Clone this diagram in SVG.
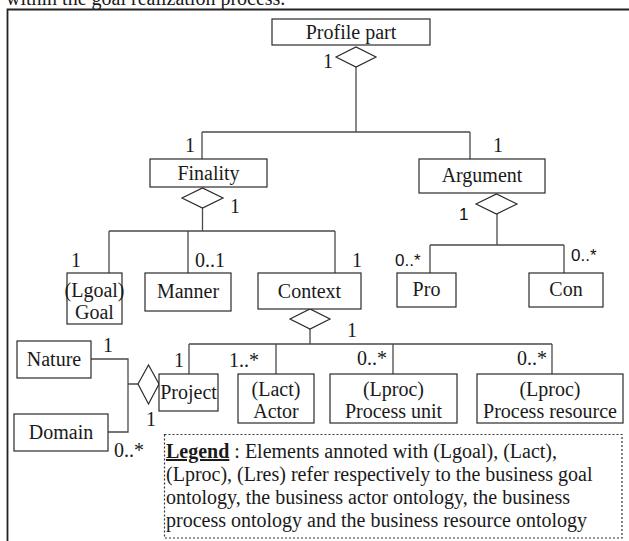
<svg xmlns="http://www.w3.org/2000/svg" width="629" height="541" viewBox="0 0 629 541">
  <style>
    .box { fill: #ffffff; stroke: #2a2a2a; stroke-width: 1.2; }
    .dia { fill: #ffffff; stroke: #2a2a2a; stroke-width: 1.2; }
    .wire { fill: none; stroke: #4a4a4a; stroke-width: 1.3; }
    .t { font-family: "Liberation Serif", "Times New Roman", serif; font-size: 20px; fill: #1a1a1a; }
    .c { text-anchor: middle; }
    .s { font-family: "Liberation Sans", Arial, sans-serif; font-size: 17px; fill: #111111; }
    .legend { fill: none; stroke: #333333; stroke-width: 1.2; stroke-dasharray: 2 2; }
  </style>

  <rect width="629" height="541" fill="#ffffff"/>

  <!-- running text above the frame -->
  <text class="t" x="6" y="5">within the goal realization process.</text>

  <!-- enclosing frame (open on the right and bottom) -->
  <path d="M7.5,541 V9.5 H629" fill="none" stroke="#222222" stroke-width="1.8"/>

  <!-- connectors -->
  <g id="connectors" class="wire">
    <path d="M356,67 V132 M202,132 H470 M202,132 V159 M470,132 V159"/>
    <path d="M202.5,208 V231 M109,231 H335 M109,231 V273 M188,231 V273 M335,231 V273"/>
    <path d="M497,214 V245 M430,245 H564 M430,245 V273 M564,245 V273"/>
    <path d="M310,329 V344 M189,344 H552 M189,344 V374 M276,344 V374 M393,344 V374 M552,344 V374"/>
    <path d="M91,359 H128 V432 H108 M128,384 H138"/>
  </g>

  <!-- aggregation diamonds -->
  <g id="diamonds">
    <polygon class="dia" points="336,57 356,47 376,57 356,67"/>
    <polygon class="dia" points="182,198 202.5,188 223,198 202.5,208"/>
    <polygon class="dia" points="476,204 496.5,194 517,204 496.5,214"/>
    <polygon class="dia" points="290,319 310,309 330,319 310,329"/>
    <polygon class="dia" points="138,384 148.5,365 159,384 148.5,404"/>
  </g>

  <!-- multiplicities -->
  <g id="multiplicities">
    <text class="t" x="323" y="68">1</text>
    <text class="t" x="185" y="152">1</text>
    <text class="t" x="493" y="152">1</text>
    <text class="t" x="230" y="213">1</text>
    <text class="s" x="459" y="220">1</text>
    <text class="t" x="71" y="267">1</text>
    <text class="t" x="195" y="267">0..1</text>
    <text class="t" x="352" y="267">1</text>
    <text class="s" x="395" y="266">0..*</text>
    <text class="s" x="571" y="261">0..*</text>
    <text class="t" x="347" y="337">1</text>
    <text class="t" x="103" y="352">1</text>
    <text class="t" x="174" y="367">1</text>
    <text class="t" x="229" y="367">1..*</text>
    <text class="t" x="357" y="365">0..*</text>
    <text class="t" x="517" y="365">0..*</text>
    <text class="t" x="146" y="426">1</text>
    <text class="t" x="114" y="457">0..*</text>
  </g>

  <!-- classes -->
  <g id="profile-part">
    <rect class="box" x="272" y="19" width="158" height="26"/>
    <text class="t c" x="351" y="39">Profile part</text>
  </g>
  <g id="finality">
    <rect class="box" x="150" y="159" width="117" height="28"/>
    <text class="t c" x="208.5" y="180">Finality</text>
  </g>
  <g id="argument">
    <rect class="box" x="419" y="159" width="126" height="34"/>
    <text class="t c" x="482" y="182">Argument</text>
  </g>
  <g id="goal">
    <rect class="box" x="67" y="273" width="55" height="51"/>
    <text class="t c" x="94.5" y="297">(Lgoal)</text>
    <text class="t c" x="94.5" y="319">Goal</text>
  </g>
  <g id="manner">
    <rect class="box" x="145" y="273" width="86" height="38"/>
    <text class="t c" x="188" y="298">Manner</text>
  </g>
  <g id="context">
    <rect class="box" x="258" y="273" width="103" height="36"/>
    <text class="t c" x="309.5" y="298">Context</text>
  </g>
  <g id="pro">
    <rect class="box" x="397" y="273" width="59" height="34"/>
    <text class="t c" x="426.5" y="296">Pro</text>
  </g>
  <g id="con">
    <rect class="box" x="529" y="273" width="74" height="34"/>
    <text class="t c" x="566" y="296">Con</text>
  </g>
  <g id="nature">
    <rect class="box" x="17" y="341" width="74" height="37"/>
    <text class="t c" x="54" y="366">Nature</text>
  </g>
  <g id="domain">
    <rect class="box" x="14" y="414" width="94" height="37"/>
    <text class="t c" x="61" y="439">Domain</text>
  </g>
  <g id="project">
    <rect class="box" x="159" y="374" width="59" height="37"/>
    <text class="t c" x="188.5" y="399">Project</text>
  </g>
  <g id="actor">
    <rect class="box" x="238" y="374" width="76" height="49"/>
    <text class="t c" x="276" y="396">(Lact)</text>
    <text class="t c" x="276" y="418">Actor</text>
  </g>
  <g id="process-unit">
    <rect class="box" x="330" y="374" width="127" height="49"/>
    <text class="t c" x="393.5" y="396">(Lproc)</text>
    <text class="t c" x="393.5" y="418">Process unit</text>
  </g>
  <g id="process-resource">
    <rect class="box" x="477" y="374" width="146" height="49"/>
    <text class="t c" x="550" y="396">(Lproc)</text>
    <text class="t c" x="550" y="418">Process resource</text>
  </g>

  <!-- legend -->
  <g id="legend">
    <rect class="legend" x="164.5" y="434.5" width="457.5" height="103.5"/>
    <text class="t" x="166" y="458"><tspan font-weight="bold" text-decoration="underline">Legend</tspan> : Elements annoted with (Lgoal), (Lact),</text>
    <text class="t" x="166" y="481">(Lproc), (Lres) refer respectively to the business goal</text>
    <text class="t" x="166" y="504">ontology, the business actor ontology, the business</text>
    <text class="t" x="166" y="527">process ontology and the business resource ontology</text>
  </g>
</svg>
